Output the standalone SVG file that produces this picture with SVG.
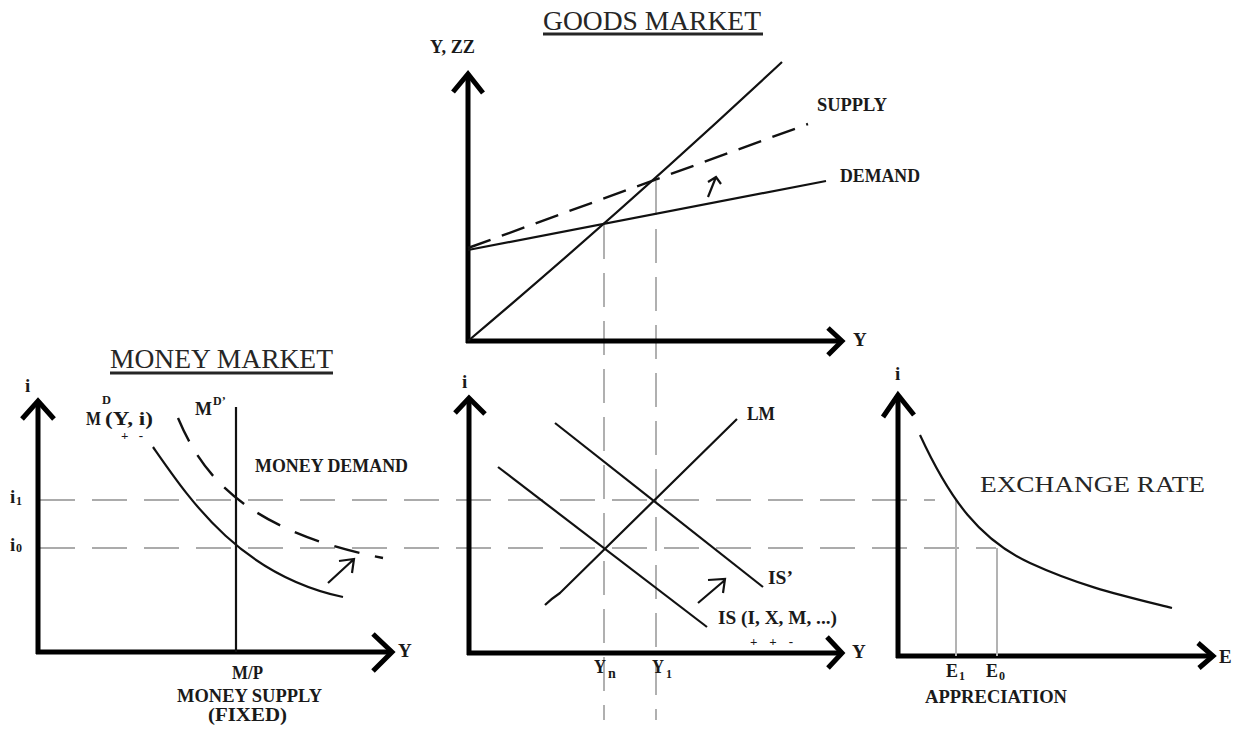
<svg xmlns="http://www.w3.org/2000/svg" width="1248" height="731" viewBox="0 0 1248 731">
<style>
.bg{fill:#ffffff}
.axis{stroke:#000;stroke-width:5;fill:none;stroke-linecap:butt}
.head{stroke:#000;stroke-width:5;fill:none;stroke-linejoin:miter;stroke-linecap:butt}
.curve{stroke:#111;stroke-width:2.2;fill:none}
.dash{stroke:#111;stroke-width:2.4;fill:none;stroke-dasharray:24 12}
.guide{stroke:#ababab;stroke-width:2;fill:none;stroke-dasharray:35 17}
.vguide{stroke:#b0b0b0;stroke-width:2;fill:none;stroke-dasharray:34 14}
.drop{stroke:#b3b3b3;stroke-width:2;fill:none}
.arr{stroke:#111;stroke-width:2.2;fill:none}
.lbl{font-family:"Liberation Serif","Times New Roman",serif;font-weight:bold;font-size:19px;fill:#1a1a1a}
.sub{font-family:"Liberation Serif","Times New Roman",serif;font-weight:bold;font-size:12px;fill:#1a1a1a}
.title{font-family:"Liberation Serif","Times New Roman",serif;font-size:27px;fill:#262626}
.uline{stroke:#262626;stroke-width:3}
</style>
<rect class="bg" x="0" y="0" width="1248" height="731"/>

<g id="guides">
  <line class="guide" x1="40" y1="500" x2="935" y2="500"/>
  <line class="guide" x1="40" y1="548" x2="996" y2="548"/>
  <line class="vguide" x1="604" y1="225" x2="604" y2="720"/>
  <line class="vguide" x1="656" y1="181" x2="656" y2="720"/>
</g>

<g id="goods-market">
  <text class="title" x="543" y="30" textLength="218" lengthAdjust="spacingAndGlyphs">GOODS MARKET</text>
  <line class="uline" x1="543" y1="34" x2="763" y2="34"/>
  <text class="lbl" x="430" y="53" textLength="45" lengthAdjust="spacingAndGlyphs">Y, ZZ</text>
  <line class="axis" x1="468" y1="74" x2="468" y2="343"/>
  <polyline class="head" points="453,92 468,74 483,93"/>
  <line class="axis" x1="466" y1="341" x2="840" y2="341"/>
  <polyline class="head" points="828,328 842,341 828,355"/>
  <text class="lbl" x="853" y="346">Y</text>
  <path class="curve" d="M468,341 Q630,204 782,62"/>
  <line class="curve" x1="468" y1="250" x2="826" y2="181"/>
  <line class="dash" x1="468" y1="248" x2="808" y2="124"/>
  <path class="arr" d="M708,197 L716,177 M708,182 L716,177 L721,184"/>
  <text class="lbl" x="817" y="111" textLength="70" lengthAdjust="spacingAndGlyphs">SUPPLY</text>
  <text class="lbl" x="840" y="182" textLength="80" lengthAdjust="spacingAndGlyphs">DEMAND</text>
</g>

<g id="money-market">
  <text class="title" x="110" y="368" textLength="223" lengthAdjust="spacingAndGlyphs">MONEY MARKET</text>
  <line class="uline" x1="110" y1="373" x2="333" y2="373"/>
  <text class="lbl" x="25" y="392">i</text>
  <line class="axis" x1="38" y1="403" x2="38" y2="654"/>
  <polyline class="head" points="22,419 38,401 54,419"/>
  <line class="axis" x1="36" y1="652" x2="391" y2="652"/>
  <polyline class="head" points="373,634 392,652 373,671"/>
  <text class="lbl" x="398" y="657">Y</text>
  <line class="curve" x1="236" y1="407" x2="236" y2="652"/>
  <path class="curve" d="M153,447 C190,500 240,575 343,597"/>
  <path class="dash" style="stroke-dasharray:26 16" d="M178,418 C200,470 240,530 383,558"/>
  <path class="arr" d="M328,583 L353,560 M339,561 L354,559 L352,573"/>
  <text class="lbl" x="86" y="425" textLength="15" lengthAdjust="spacingAndGlyphs">M</text>
  <text class="sub" x="102" y="404" textLength="9" lengthAdjust="spacingAndGlyphs">D</text>
  <text class="lbl" x="105" y="425" textLength="48" lengthAdjust="spacingAndGlyphs">(Y, i)</text>
  <text class="sub" style="font-size:13px" x="121" y="440" textLength="22" lengthAdjust="spacing">+ -</text>
  <text class="lbl" x="195" y="415" textLength="17" lengthAdjust="spacingAndGlyphs">M</text>
  <text class="sub" x="213" y="405">D’</text>
  <text class="lbl" x="255" y="472" textLength="153" lengthAdjust="spacingAndGlyphs">MONEY DEMAND</text>
  <text class="lbl" x="10" y="503">i</text>
  <text class="sub" x="16" y="505">1</text>
  <text class="lbl" x="10" y="551">i</text>
  <text class="sub" x="16" y="552">0</text>
  <text class="lbl" x="232" y="679" textLength="31" lengthAdjust="spacingAndGlyphs">M/P</text>
  <text class="lbl" x="177" y="702" textLength="145" lengthAdjust="spacingAndGlyphs">MONEY SUPPLY</text>
  <text class="lbl" x="208" y="721" textLength="79" lengthAdjust="spacingAndGlyphs">(FIXED)</text>
</g>

<g id="is-lm">
  <text class="lbl" x="462" y="388">i</text>
  <line class="axis" x1="469" y1="400" x2="469" y2="655"/>
  <polyline class="head" points="455,413 469,398 485,414"/>
  <line class="axis" x1="467" y1="653" x2="840" y2="653"/>
  <polyline class="head" points="827,637 842,653 828,668"/>
  <text class="lbl" x="852" y="658">Y</text>
  <path class="curve" d="M545,605 Q551,599 560,593 L737,419"/>
  <line class="curve" x1="498" y1="467" x2="707" y2="627"/>
  <line class="curve" x1="555" y1="423" x2="763" y2="587"/>
  <path class="arr" d="M698,603 L725,580 M708,580 L725,579 L723,593"/>
  <text class="lbl" x="747" y="420" textLength="28" lengthAdjust="spacingAndGlyphs">LM</text>
  <text class="lbl" x="768" y="584" textLength="25" lengthAdjust="spacingAndGlyphs">IS’</text>
  <text class="lbl" x="718" y="624" textLength="119" lengthAdjust="spacingAndGlyphs">IS (I, X, M, ...)</text>
  <text class="sub" style="font-size:13px" x="750" y="646" textLength="43" lengthAdjust="spacing">+ + -</text>
  <text class="lbl" x="594" y="673" textLength="12" lengthAdjust="spacingAndGlyphs">Y</text>
  <text class="sub" style="font-size:14px" x="608" y="678">n</text>
  <text class="lbl" x="652" y="673" textLength="12" lengthAdjust="spacingAndGlyphs">Y</text>
  <text class="sub" x="666" y="678">1</text>
</g>

<g id="exchange-rate">
  <text class="lbl" x="895" y="380">i</text>
  <line class="axis" x1="898" y1="397" x2="898" y2="658"/>
  <polyline class="head" points="883,417 898,395 914,415"/>
  <line class="axis" x1="896" y1="656" x2="1211" y2="656"/>
  <polyline class="head" points="1198,643 1213,656 1199,668"/>
  <text class="lbl" x="1219" y="663">E</text>
  <line class="drop" x1="956" y1="500" x2="956" y2="656"/>
  <line class="drop" x1="997" y1="548" x2="997" y2="656"/>
  <path class="curve" d="M920,435 C950,500 980,540 1030,563 S1120,595 1172,608"/>
  <text class="title" style="font-size:24px" x="980" y="492" textLength="225" lengthAdjust="spacingAndGlyphs">EXCHANGE RATE</text>
  <text class="lbl" x="946" y="677" textLength="12" lengthAdjust="spacingAndGlyphs">E</text>
  <text class="sub" x="959" y="680">1</text>
  <text class="lbl" x="986" y="677" textLength="12" lengthAdjust="spacingAndGlyphs">E</text>
  <text class="sub" x="999" y="680">0</text>
  <text class="lbl" x="925" y="703" textLength="142" lengthAdjust="spacingAndGlyphs">APPRECIATION</text>
</g>
</svg>
